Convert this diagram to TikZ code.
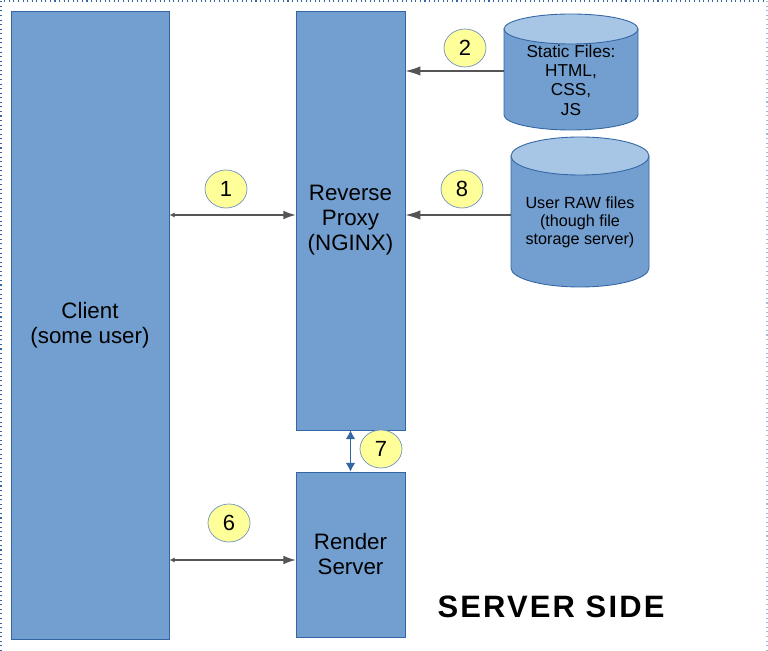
\documentclass[tikz,border=0pt]{standalone}
\usepackage{fontspec}
\setmainfont{Liberation Sans}
\newfontfamily\sidefont{Liberation Sans}[LetterSpace=7]
\usetikzlibrary{arrows.meta,shapes.geometric}
\definecolor{BoxFill}{HTML}{729FCF}
\definecolor{BoxEdge}{HTML}{3465A4}
\definecolor{DiskTop}{HTML}{A7C6E5}
\definecolor{StepYellow}{HTML}{FFFF99}
\definecolor{LinkGray}{HTML}{555555}

\begin{document}
\begin{tikzpicture}[x=0.02cm,y=-0.02cm,
    tier/.style={draw=BoxEdge,fill=BoxFill,line width=0.5pt,inner sep=0pt,
      align=center,font=\fontsize{12.7}{14.2}\selectfont},
    diskbody/.style={draw=BoxEdge,fill=BoxFill,line width=0.5pt},
    disktop/.style={draw=BoxEdge,fill=DiskTop,line width=0.5pt},
    stepno/.style={ellipse,draw=BoxEdge!70,fill=StepYellow,minimum width=0.84cm,
      minimum height=0.76cm,inner sep=0pt,font=\fontsize{12.5}{14}\selectfont},
    link/.style={draw=LinkGray,line width=0.6pt},
    twoway/.style={{Latex[length=3pt,width=3pt]}-{Latex[length=7pt,width=5pt]}}
  ]
  \useasboundingbox (0,0) rectangle (768,651);
  % frame
  \draw[BoxEdge,dotted,line width=0.6pt] (1,651) -- (1,1) -- (767,1);
  \draw[BoxEdge!45,dotted,line width=0.6pt] (767,1) -- (767,651);

  % boxes
  \node[tier,minimum width=3.16cm,minimum height=12.58cm] (client) at (90,325.5)
    {Client\\(some user)};
  \node[tier,minimum width=2.18cm,minimum height=8.38cm] (proxy) at (350.5,220.5)
    {Reverse\\Proxy\\(NGINX)};
  \node[tier,minimum width=2.18cm,minimum height=3.3cm] (render) at (350.5,554.5)
    {Render\\Server};

  % storage
  \path[diskbody] (504,29) -- (504,115) arc[start angle=180,end angle=0,x radius=67,y radius=15]
    -- (638,29) -- cycle;
  \path[disktop] (571,29) ellipse[x radius=67,y radius=15];
  \node[align=center,font=\fontsize{9.8}{11}\selectfont] (static) at (571,80)
    {Static Files:\\HTML,\\CSS,\\JS};
  \coordinate (staticport) at (504,71);

  \path[diskbody] (511,156) -- (511,268) arc[start angle=180,end angle=0,x radius=69,y radius=19]
    -- (649,156) -- cycle;
  \path[disktop] (580,156) ellipse[x radius=69,y radius=19];
  \node[align=center,font=\fontsize{9.2}{10.2}\selectfont] (raw) at (580,222)
    {User RAW files\\(though file\\storage server)};
  \coordinate (rawport) at (511,215);

  % steps
  \node[stepno] (s1) at (226,189) {1};
  \node[stepno] (s2) at (465,48) {2};
  \node[stepno] (s6) at (229,523) {6};
  \node[stepno] (s7) at (381,449) {7};
  \node[stepno] (s8) at (462,189) {8};

  % links
  \draw[link,twoway] (client.east |- 0,215) -- (proxy.west |- 0,215);
  \draw[link,twoway] (client.east |- 0,560) -- (render.west |- 0,560);
  \draw[link,-{Latex[length=8.5pt,width=5.3pt]}] (staticport) -- (proxy.east |- staticport);
  \draw[link,-{Latex[length=8.5pt,width=5.3pt]}] (rawport) -- (proxy.east |- rawport);
  \draw[BoxEdge,line width=0.6pt,{Latex[length=5pt,width=5.5pt]}-{Latex[length=5pt,width=5.5pt]}]
    (proxy.south) -- (render.north);

  \node[font=\sidefont\bfseries\fontsize{17.6}{20}\selectfont] (side) at (551,607) {SERVER SIDE};
\end{tikzpicture}
\end{document}
